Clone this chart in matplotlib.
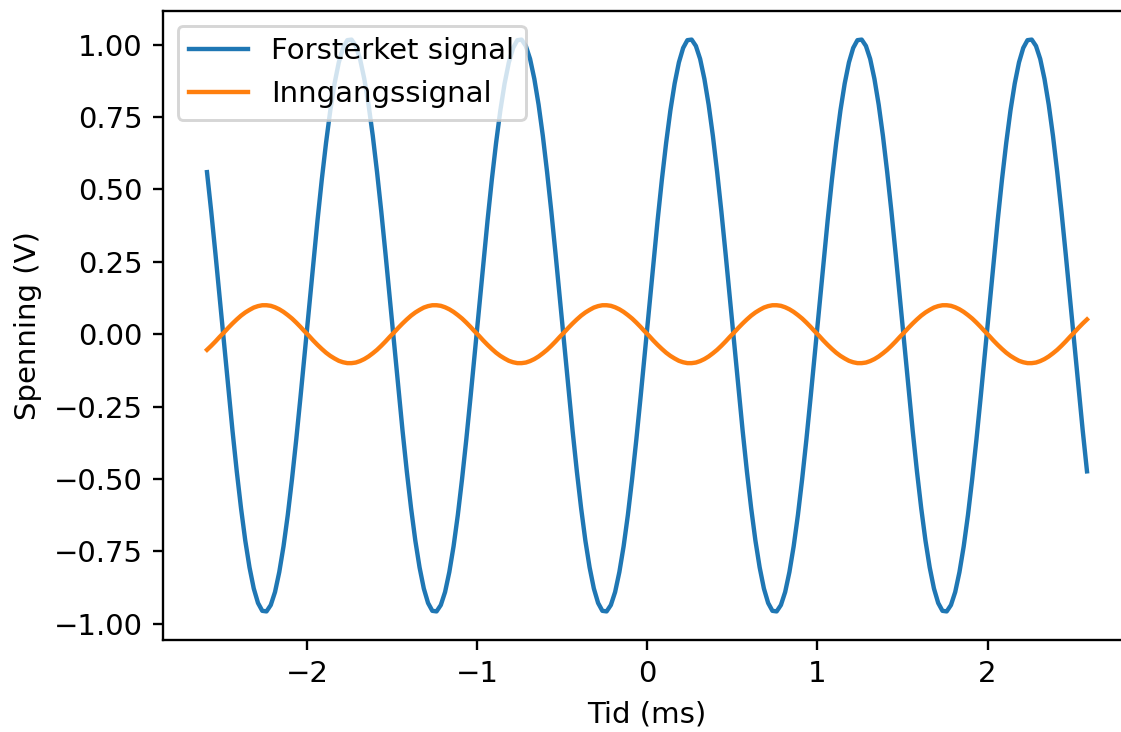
import numpy as np
import matplotlib
matplotlib.use('Agg')
import matplotlib.pyplot as plt


# samples every 0.025 ms
tid = np.linspace(-2.59, 2.585, 208)

forsterket = [
    0.560, 0.423, 0.276, 0.123, -0.032, -0.186, -0.334, -0.474, -0.601, -0.713,
    -0.806, -0.879, -0.929, -0.956, -0.958, -0.936, -0.891, -0.822, -0.733, -0.625,
    -0.500, -0.363, -0.216, -0.063, 0.092, 0.246, 0.394, 0.534, 0.661, 0.773,
    0.866, 0.939, 0.989, 1.016, 1.018, 0.996, 0.951, 0.882, 0.793, 0.685,
    0.560, 0.423, 0.276, 0.123, -0.032, -0.186, -0.334, -0.474, -0.601, -0.713,
    -0.806, -0.879, -0.929, -0.956, -0.958, -0.936, -0.891, -0.822, -0.733, -0.625,
    -0.500, -0.363, -0.216, -0.063, 0.092, 0.246, 0.394, 0.534, 0.661, 0.773,
    0.866, 0.939, 0.989, 1.016, 1.018, 0.996, 0.951, 0.882, 0.793, 0.685,
    0.560, 0.423, 0.276, 0.123, -0.032, -0.186, -0.334, -0.474, -0.601, -0.713,
    -0.806, -0.879, -0.929, -0.956, -0.958, -0.936, -0.891, -0.822, -0.733, -0.625,
    -0.500, -0.363, -0.216, -0.063, 0.092, 0.246, 0.394, 0.534, 0.661, 0.773,
    0.866, 0.939, 0.989, 1.016, 1.018, 0.996, 0.951, 0.882, 0.793, 0.685,
    0.560, 0.423, 0.276, 0.123, -0.032, -0.186, -0.334, -0.474, -0.601, -0.713,
    -0.806, -0.879, -0.929, -0.956, -0.958, -0.936, -0.891, -0.822, -0.733, -0.625,
    -0.500, -0.363, -0.216, -0.063, 0.092, 0.246, 0.394, 0.534, 0.661, 0.773,
    0.866, 0.939, 0.989, 1.016, 1.018, 0.996, 0.951, 0.882, 0.793, 0.685,
    0.560, 0.423, 0.276, 0.123, -0.032, -0.186, -0.334, -0.474, -0.601, -0.713,
    -0.806, -0.879, -0.929, -0.956, -0.958, -0.936, -0.891, -0.822, -0.733, -0.625,
    -0.500, -0.363, -0.216, -0.063, 0.092, 0.246, 0.394, 0.534, 0.661, 0.773,
    0.866, 0.939, 0.989, 1.016, 1.018, 0.996, 0.951, 0.882, 0.793, 0.685,
    0.560, 0.423, 0.276, 0.123, -0.032, -0.186, -0.334, -0.474,
]

inngang = [
    -0.054, -0.040, -0.025, -0.009, 0.006, 0.022, 0.037, 0.051, 0.064, 0.075,
    0.084, 0.092, 0.097, 0.100, 0.100, 0.098, 0.093, 0.086, 0.077, 0.066,
    0.054, 0.040, 0.025, 0.009, -0.006, -0.022, -0.037, -0.051, -0.064, -0.075,
    -0.084, -0.092, -0.097, -0.100, -0.100, -0.098, -0.093, -0.086, -0.077, -0.066,
    -0.054, -0.040, -0.025, -0.009, 0.006, 0.022, 0.037, 0.051, 0.064, 0.075,
    0.084, 0.092, 0.097, 0.100, 0.100, 0.098, 0.093, 0.086, 0.077, 0.066,
    0.054, 0.040, 0.025, 0.009, -0.006, -0.022, -0.037, -0.051, -0.064, -0.075,
    -0.084, -0.092, -0.097, -0.100, -0.100, -0.098, -0.093, -0.086, -0.077, -0.066,
    -0.054, -0.040, -0.025, -0.009, 0.006, 0.022, 0.037, 0.051, 0.064, 0.075,
    0.084, 0.092, 0.097, 0.100, 0.100, 0.098, 0.093, 0.086, 0.077, 0.066,
    0.054, 0.040, 0.025, 0.009, -0.006, -0.022, -0.037, -0.051, -0.064, -0.075,
    -0.084, -0.092, -0.097, -0.100, -0.100, -0.098, -0.093, -0.086, -0.077, -0.066,
    -0.054, -0.040, -0.025, -0.009, 0.006, 0.022, 0.037, 0.051, 0.064, 0.075,
    0.084, 0.092, 0.097, 0.100, 0.100, 0.098, 0.093, 0.086, 0.077, 0.066,
    0.054, 0.040, 0.025, 0.009, -0.006, -0.022, -0.037, -0.051, -0.064, -0.075,
    -0.084, -0.092, -0.097, -0.100, -0.100, -0.098, -0.093, -0.086, -0.077, -0.066,
    -0.054, -0.040, -0.025, -0.009, 0.006, 0.022, 0.037, 0.051, 0.064, 0.075,
    0.084, 0.092, 0.097, 0.100, 0.100, 0.098, 0.093, 0.086, 0.077, 0.066,
    0.054, 0.040, 0.025, 0.009, -0.006, -0.022, -0.037, -0.051, -0.064, -0.075,
    -0.084, -0.092, -0.097, -0.100, -0.100, -0.098, -0.093, -0.086, -0.077, -0.066,
    -0.054, -0.040, -0.025, -0.009, 0.006, 0.022, 0.037, 0.051,
]

dpi = 210
fig = plt.figure(figsize=(1121 / dpi, 732 / dpi), dpi=dpi)
# the reference is cut off on the right, so the axes run past the edge
ax = fig.add_axes([163 / 1121, 92 / 732, 968 / 1121, 629 / 732])

ax.plot(tid, forsterket, label='Forsterket signal')
ax.plot(tid, inngang, label='Inngangssignal')
ax.set_xlabel('Tid (ms)')
ax.set_ylabel('Spenning (V)')
ax.legend(loc='upper left')

fig.savefig('out.png', dpi=dpi)
